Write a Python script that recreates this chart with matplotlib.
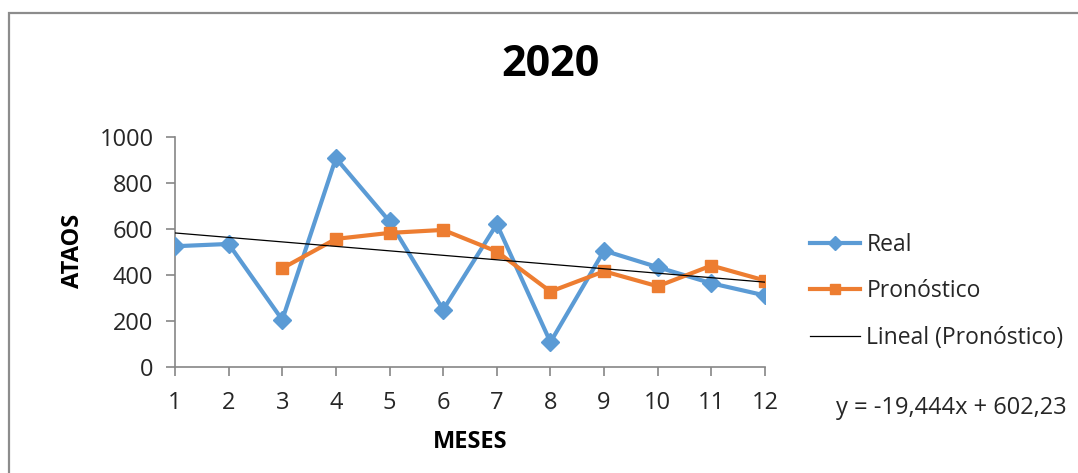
import matplotlib
matplotlib.use("Agg")
import matplotlib.pyplot as plt
from matplotlib.patches import Rectangle
import numpy as np

# Monthly values
months = [1, 2, 3, 4, 5, 6, 7, 8, 9, 10, 11, 12]
real = [525, 535, 205, 908, 633, 249, 621, 108, 506, 434, 364, 311]
forecast_months = [3, 4, 5, 6, 7, 8, 9, 10, 11, 12]
forecast = [429, 557, 583, 596, 502, 328, 416, 351, 441, 376]

# Linear trend of the forecast series
trend_slope = -19.444
trend_intercept = 602.23

title = "2020"
y_label = "ATAOS"
x_label = "MESES"
y_ticks = [0, 200, 400, 600, 800, 1000]

FONT = "Open Sans"
BLUE = "#5B9BD5"
ORANGE = "#ED7D31"
AXIS_GREY = "#868686"
TEXT = "#262626"

W, H = 1078, 473
fig = plt.figure(figsize=(W / 100, H / 100), dpi=100)
fig.patch.set_facecolor("white")

# Chart area frame
fig.patches.append(Rectangle((8.5 / W, -0.05), 1.2, 1 - 13.5 / H + 0.05,
                             transform=fig.transFigure, fill=False,
                             edgecolor="#8C8C8C", linewidth=1.6))

ax = fig.add_axes([175 / W, 1 - 367 / H, (765 - 175) / W, (367 - 137) / H])

ax.plot(months, real, color=BLUE, linewidth=3.0, marker="D", markersize=9,
        label="Real", zorder=3)
ax.plot(forecast_months, forecast, color=ORANGE, linewidth=3.0, marker="s",
        markersize=8.5, label="Pronóstico", zorder=4)

tx = np.array([months[0], months[-1]], dtype=float)
ax.plot(tx, trend_slope * tx + trend_intercept, color="black", linewidth=0.9,
        label="Lineal (Pronóstico)", zorder=5)

ax.set_xlim(months[0], months[-1])
ax.set_ylim(y_ticks[0], y_ticks[-1])
ax.set_xticks(months)
ax.set_yticks(y_ticks)

for side in ("top", "right"):
    ax.spines[side].set_visible(False)
for side in ("left", "bottom"):
    ax.spines[side].set_color(AXIS_GREY)
    ax.spines[side].set_linewidth(1.2)

ax.tick_params(axis="both", color=AXIS_GREY, width=1.2, length=6.5,
               labelsize=17, labelcolor=TEXT)
ax.tick_params(axis="x", pad=11)
ax.tick_params(axis="y", pad=9)
for lab in ax.get_xticklabels() + ax.get_yticklabels():
    lab.set_fontfamily(FONT)

fig.text(550 / W, 1 - 65 / H, title, ha="center", va="center",
         fontsize=31, fontweight="bold", family=FONT, color="black")
fig.text(73 / W, 1 - 251 / H, y_label, ha="center", va="center", rotation=90,
         fontsize=17, fontweight="bold", family=FONT, color="black")
fig.text(470 / W, 1 - 442 / H, x_label, ha="center", va="center",
         fontsize=17, fontweight="bold", family=FONT, color="black")

leg = fig.legend(loc="upper left", bbox_to_anchor=(789 / W, 1 - 212 / H),
                 frameon=False, prop={"family": FONT, "size": 16.5},
                 handlelength=2.18, handletextpad=0.3, labelspacing=0.98,
                 numpoints=1, markerscale=0.8)
for t in leg.get_texts():
    t.set_color(TEXT)

eq = f"y = {trend_slope:.3f}x + {trend_intercept:.2f}".replace(".", ",")
fig.text(836 / W, 1 - 408 / H, eq, ha="left", va="center",
         fontsize=17, family=FONT, color=TEXT)

fig.savefig("out.png", dpi=100)
